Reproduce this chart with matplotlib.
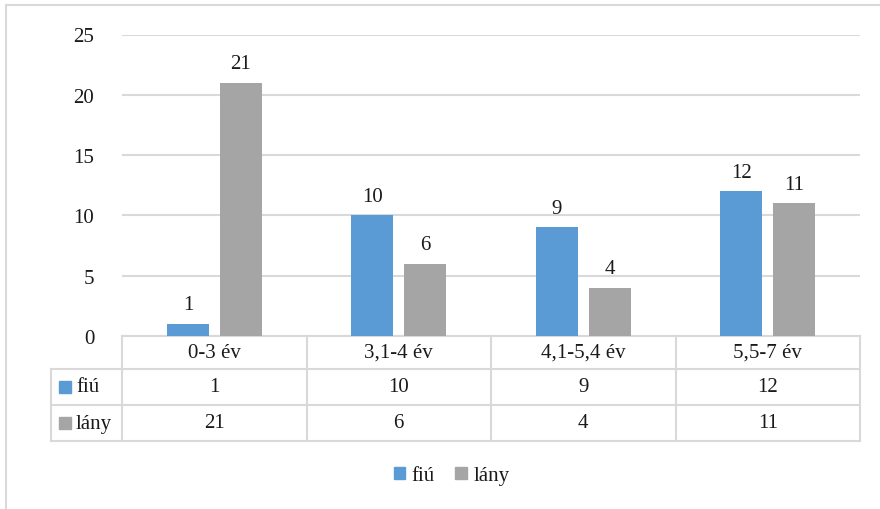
import matplotlib.pyplot as plt
from matplotlib.patches import Patch, Rectangle
from matplotlib.lines import Line2D
from matplotlib.transforms import blended_transform_factory

categories = ["0-3 év", "3,1-4 év", "4,1-5,4 év", "5,5-7 év"]
series_names = ["fiú", "lány"]
fiu = [1, 10, 9, 12]
lany = [21, 6, 4, 11]
yticks = [0, 5, 10, 15, 20, 25]

BLUE = "#5B9BD5"
GRAY = "#A5A5A5"
GRID = "#D9D9D9"
TEXT = "#1a1a1a"
FS = 15

plt.rcParams["font.family"] = ["Liberation Serif", "DejaVu Serif"]
plt.rcParams["font.size"] = FS

fig = plt.figure(figsize=(8.8, 5.1), dpi=100)
AX_TOP, AX_BOT = 35.5, 337
ax = fig.add_axes([122 / 880, 1 - AX_BOT / 510, 738 / 880, (AX_BOT - AX_TOP) / 510])

# chart frame (top and left edges visible in the crop)
fig.add_artist(Line2D([6 / 880, 1], [1 - 6 / 510] * 2, color=GRID, lw=1.5))
fig.add_artist(Line2D([6 / 880] * 2, [0, 1 - 6 / 510], color=GRID, lw=1.5))

x = list(range(len(categories)))
w = 0.228
off = 0.143
b1 = ax.bar([i - off for i in x], fiu, w, color=BLUE, zorder=3)
b2 = ax.bar([i + off for i in x], lany, w, color=GRAY, zorder=3)

for bars, vals in ((b1, fiu), (b2, lany)):
    for r, v in zip(bars, vals):
        ax.annotate(str(v), (r.get_x() + r.get_width() / 2, v), xytext=(0, 7),
                    textcoords="offset points", ha="center", va="bottom",
                    color=TEXT, fontsize=FS)

ax.set_xlim(-0.5, len(categories) - 0.5)
ax.set_ylim(0, 25)
ax.set_yticks(yticks)
ax.set_xticks([])
ax.tick_params(axis="y", length=0, pad=20, labelcolor=TEXT, labelsize=FS)
ax.yaxis.grid(True, color=GRID, lw=1.5, zorder=0)
for s in ax.spines.values():
    s.set_visible(False)

# data table under the axis (row edges in pixels from the top)
tr = blended_transform_factory(ax.transData, ax.transAxes)
row_px = [337, 370, 406, 442]
rows_y = [(AX_BOT - p) / (AX_BOT - AX_TOP) for p in row_px]
left_x = -0.5 - (122 - 51) / 738 * 4
line_kw = dict(color=GRID, lw=1.5, clip_on=False, zorder=1)

ax.plot([-0.5, 3.5], [rows_y[0]] * 2, transform=tr, **line_kw)
for yy in rows_y[1:]:
    ax.plot([left_x, 3.5], [yy] * 2, transform=tr, **line_kw)
for i in range(len(categories) + 1):
    ax.plot([i - 0.5] * 2, [rows_y[0], rows_y[-1]], transform=tr, **line_kw)
ax.plot([left_x] * 2, [rows_y[1], rows_y[-1]], transform=tr, **line_kw)

for i, c in enumerate(categories):
    ax.text(i, (rows_y[0] + rows_y[1]) / 2, c, transform=tr, ha="center",
            va="center", color=TEXT, fontsize=FS)
    ax.text(i, (rows_y[1] + rows_y[2]) / 2, str(fiu[i]), transform=tr,
            ha="center", va="center", color=TEXT, fontsize=FS)
    ax.text(i, (rows_y[2] + rows_y[3]) / 2, str(lany[i]), transform=tr,
            ha="center", va="center", color=TEXT, fontsize=FS)

# row headers with colour keys
for k, (name, col) in enumerate(zip(series_names, [BLUE, GRAY])):
    py = (row_px[k + 1] + row_px[k + 2]) / 2
    fig.add_artist(Rectangle((59 / 880, 1 - (py + 6) / 510), 12 / 880, 12 / 510,
                             color=col, transform=fig.transFigure))
    fig.text(76 / 880, 1 - py / 510, name, ha="left", va="center", color=TEXT, fontsize=FS)

handles = [Patch(color=BLUE, label=series_names[0]), Patch(color=GRAY, label=series_names[1])]
fig.legend(handles=handles, loc="center", bbox_to_anchor=(0.513, 1 - 477 / 510), ncol=2,
           frameon=False, fontsize=FS, handlelength=0.55, handleheight=0.55,
           handletextpad=0.3, columnspacing=1.0, labelcolor=TEXT)

fig.savefig("out.png", dpi=100, facecolor="white")
